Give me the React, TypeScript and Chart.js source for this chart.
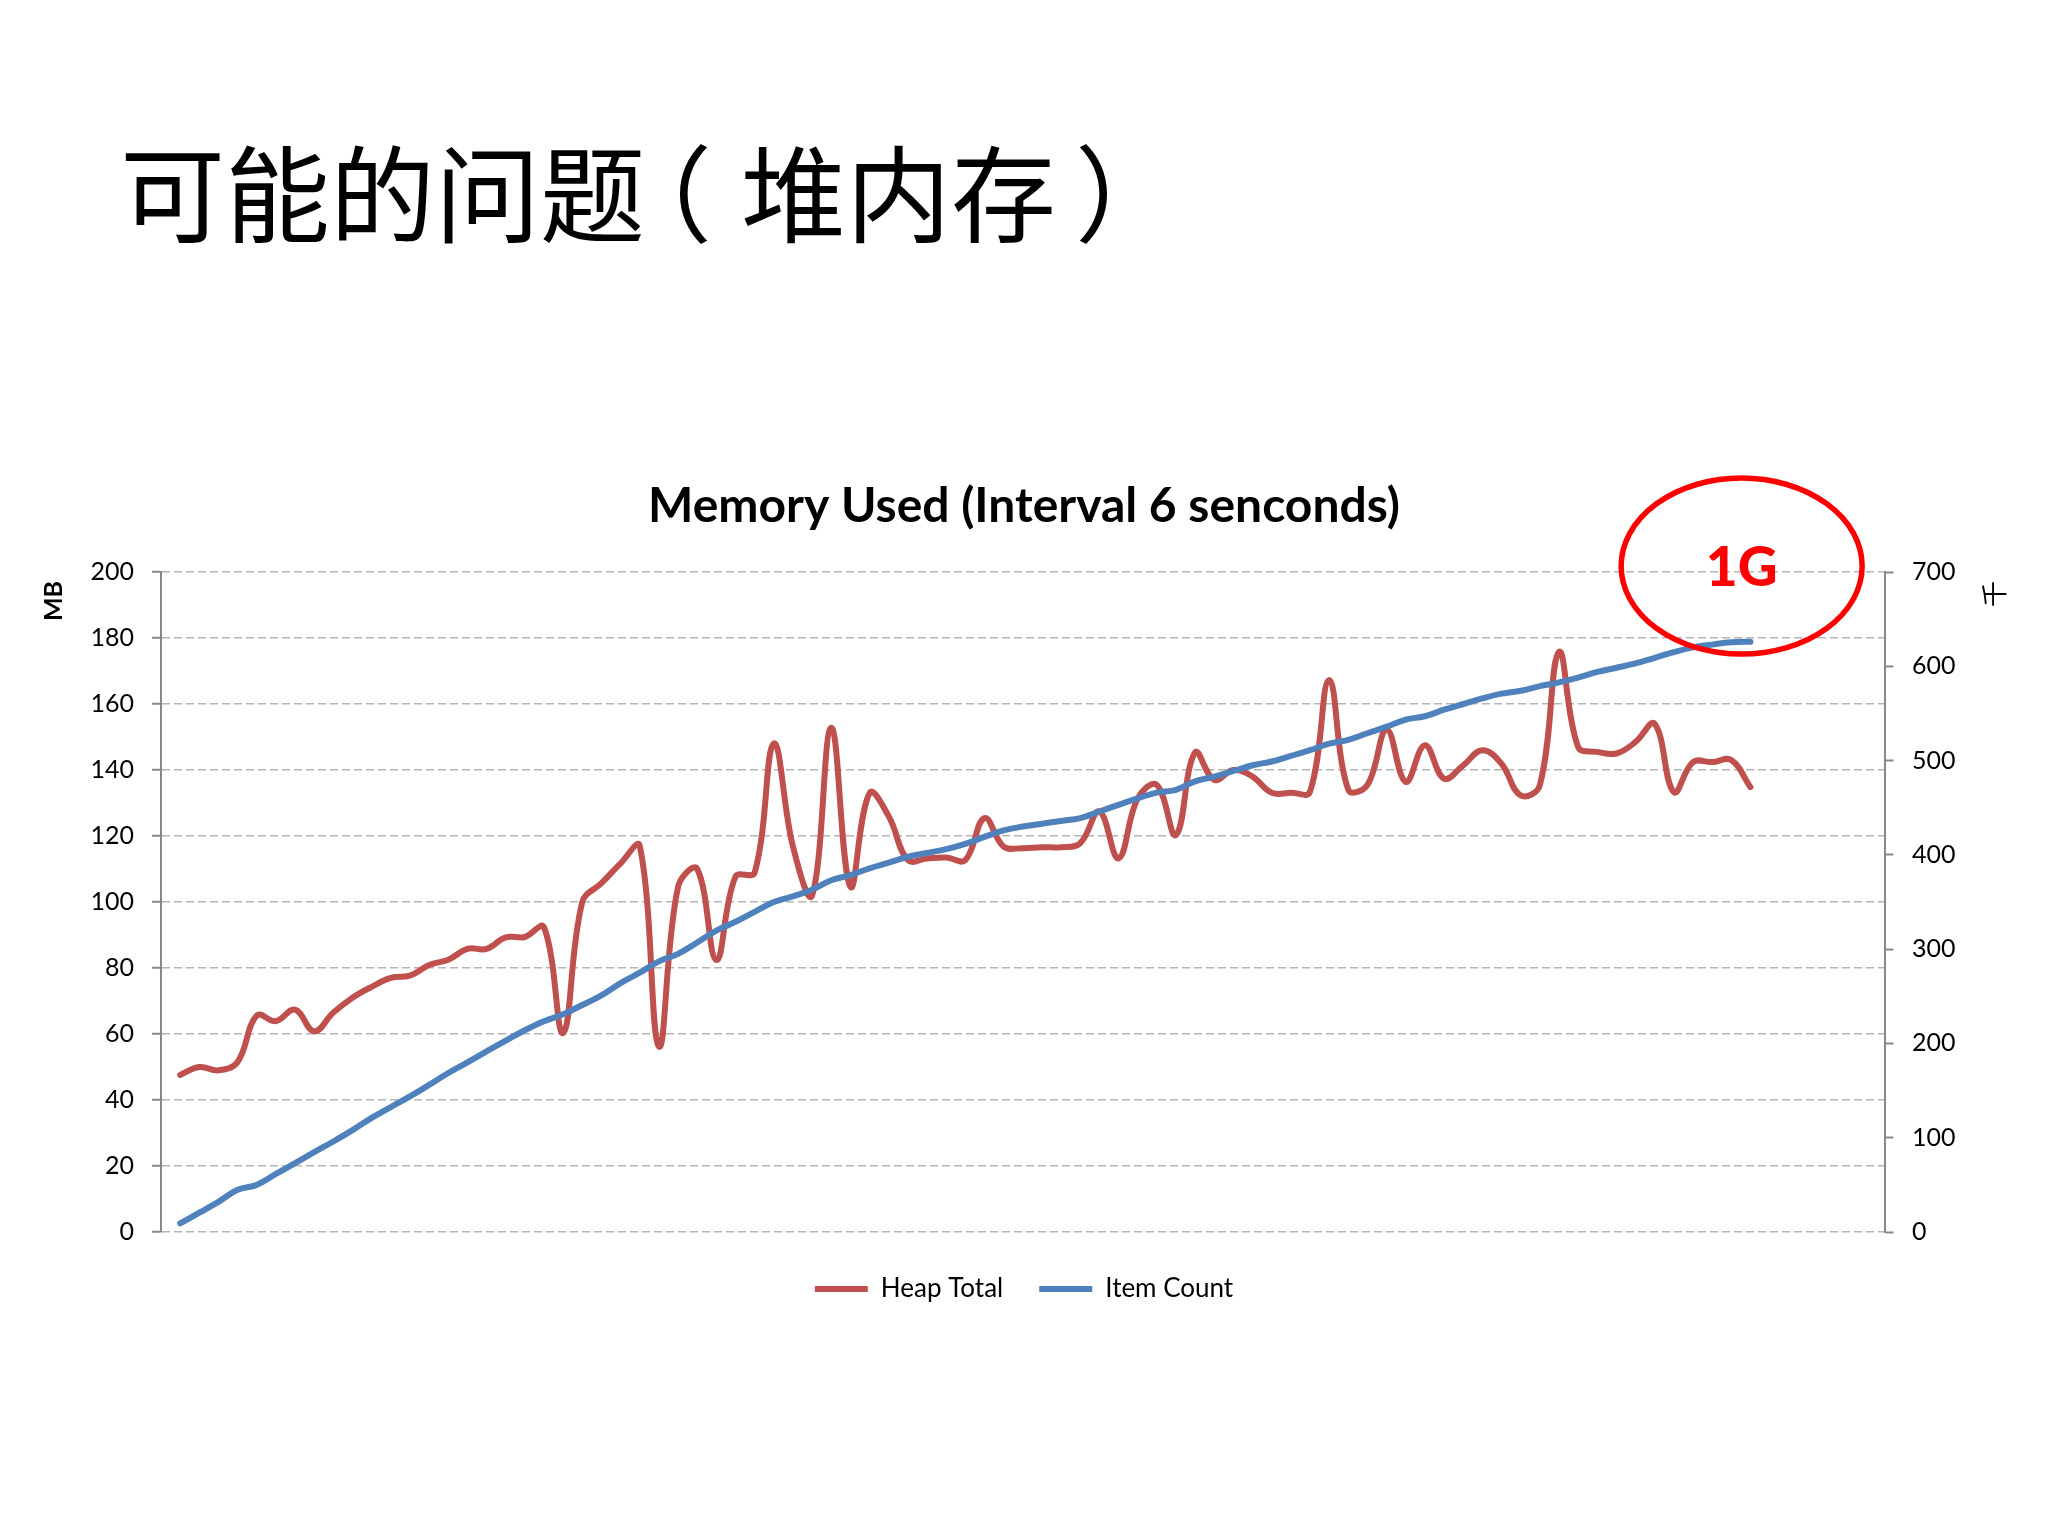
import React, { useEffect, useRef } from 'react';
import { Chart, registerables } from 'chart.js';

Chart.register(...registerables);

// ---- Data ----
const pageTitleParts = ['可能的问题', '（', '堆内存', '）'];
const chartTitle = 'Memory Used (Interval 6 senconds)';
const seriesNames = ['Heap Total', 'Item Count'];
const leftAxisTitle = 'MB';
const rightAxisTitle = '千';
const calloutText = '1G';

// Heap Total, MB (left axis)
const heapTotal = [
  47.6, 50, 49, 51.5, 65.6, 63.9, 67.4, 60.8, 66.5, 71,
  74.3, 77, 77.7, 80.9, 82.5, 85.8, 85.8, 89.3, 89.4, 92.4,
  60.3, 100, 105.7, 111.7, 117, 56.2, 104.6, 110, 82.4, 107.7,
  108.9, 148, 116.8, 102, 152.8, 104.6, 133, 126, 112.7, 113.2,
  113.5, 112.7, 125.4, 116.8, 116.3, 116.6, 116.6, 117.8, 127.4, 113.2,
  131.4, 135.5, 120.3, 145.3, 137, 140, 138, 133.1, 133.1, 133.4,
  167.3, 134, 135.5, 152.2, 136.4, 147.5, 137.4, 141.4, 146, 141.9,
  132.3, 135.4, 175.8, 147, 145.5, 145, 148.5, 154, 133.3, 142.4,
  142.4, 143, 134.8,
];

// Item Count, thousands (right axis)
const itemCount = [
  9.2, 20.5, 32, 44.7, 50, 61.6, 73, 84.7, 96, 108,
  121, 132.5, 143.8, 156, 168.6, 180, 191.6, 203, 214, 223.5,
  231, 240.8, 251, 264, 275, 287, 295, 307, 319.6, 329,
  339.6, 350, 356, 363, 373, 378.6, 385.7, 391.8, 398, 402,
  406, 411.6, 419, 426, 430, 433, 436, 439, 446, 453,
  460, 466, 469, 478, 483, 489, 495, 499, 505, 511,
  518, 522, 529, 536, 543.5, 547, 554, 560, 566, 571,
  574, 579, 583, 588, 594, 598.5, 603, 609, 615, 620,
  623, 625.5, 626,
];

// sample numbers (categories); the axis has room for 90 samples
const sampleAxisMax = 90;
const samples = heapTotal.map((_, i) => i + 1);

const leftAxis = { min: 0, max: 200, step: 20 };
const rightAxis = { min: 0, max: 700, step: 100 };

// callout position in data units (sample, MB)
const calloutAt = { sample: 82.54, mb: 201.8 };

const RED = '#C0504D';
const BLUE = '#4F81BD';
const GRID = '#b5b5b5';
const AXIS = '#888888';
const LATIN = 'Lato, "Noto Sans", sans-serif';
const CJK = '"Noto Sans CJK SC", "Noto Sans", sans-serif';

const slidePlugin = {
  id: 'slideAnnotations',
  afterDraw(chart: any) {
    const { ctx, scales } = chart;
    const area = chart.chartArea;
    ctx.save();
    ctx.fillStyle = '#000';
    ctx.textAlign = 'center';
    ctx.textBaseline = 'middle';

    // left axis title
    ctx.save();
    ctx.font = `bold 25px ${LATIN}`;
    ctx.translate(area.left - 107, area.top + 29);
    ctx.rotate(-Math.PI / 2);
    ctx.fillText(leftAxisTitle, 0, 0);
    ctx.restore();

    // right axis title
    ctx.save();
    ctx.font = `26px ${CJK}`;
    ctx.translate(area.right + 110, area.top + 22);
    ctx.rotate(-Math.PI / 2);
    ctx.fillText(rightAxisTitle, 0, 0);
    ctx.restore();

    // red callout ellipse with "1G"
    const cx = scales.x.getPixelForValue(calloutAt.sample);
    const cy = scales.y.getPixelForValue(calloutAt.mb);
    ctx.beginPath();
    ctx.ellipse(cx, cy, 120.5, 88, 0, 0, Math.PI * 2);
    ctx.lineWidth = 5.5;
    ctx.strokeStyle = '#FF0000';
    ctx.stroke();
    ctx.fillStyle = '#FF0000';
    ctx.font = `900 55px ${LATIN}`;
    ctx.fillText(calloutText, cx, cy + 2);

    ctx.restore();
  },
};

export default function App() {
  const canvasRef = useRef<HTMLCanvasElement | null>(null);

  useEffect(() => {
    if (!canvasRef.current) return;
    const chart = new Chart(canvasRef.current, {
      type: 'line',
      data: {
        datasets: [
          {
            label: seriesNames[0],
            data: samples.map((s, i) => ({ x: s, y: heapTotal[i] })),
            borderColor: RED,
            backgroundColor: RED,
            borderWidth: 6,
            borderCapStyle: 'round',
            borderJoinStyle: 'round',
            pointRadius: 0,
            tension: 0.4,
            fill: false,
            yAxisID: 'y',
            order: 1,
          },
          {
            label: seriesNames[1],
            data: samples.map((s, i) => ({ x: s, y: itemCount[i] })),
            borderColor: BLUE,
            backgroundColor: BLUE,
            borderWidth: 6,
            borderCapStyle: 'round',
            borderJoinStyle: 'round',
            pointRadius: 0,
            tension: 0.4,
            fill: false,
            yAxisID: 'y1',
            order: 0,
          },
        ],
      },
      options: {
        responsive: false,
        animation: false,
        devicePixelRatio: 1,
        layout: { padding: { top: 0, left: 0, right: 0, bottom: 224 } },
        font: { family: LATIN },
        color: '#000',
        plugins: {
          tooltip: { enabled: false },
          title: {
            display: true,
            text: chartTitle,
            color: '#000',
            font: { family: LATIN, size: 48, weight: 'bold', lineHeight: 1.2 },
            padding: { top: 478.2, bottom: 36.2 },
          },
          legend: {
            display: true,
            position: 'bottom',
            labels: {
              usePointStyle: true,
              pointStyle: 'line',
              pointStyleWidth: 53,
              padding: 36,
              color: '#000',
              font: { family: LATIN, size: 26 },
              sort: (a: any, b: any) => a.datasetIndex - b.datasetIndex,
            },
          },
        },
        scales: {
          x: {
            type: 'linear',
            min: 0,
            max: sampleAxisMax,
            display: true,
            ticks: { display: false },
            grid: { display: false },
            border: { display: false },
            afterFit: (scale: any) => {
              scale.height = 8;
            },
          },
          y: {
            type: 'linear',
            position: 'left',
            min: leftAxis.min,
            max: leftAxis.max,
            ticks: {
              stepSize: leftAxis.step,
              color: '#000',
              padding: 18,
              font: { family: LATIN, size: 25 },
            },
            grid: {
              color: GRID,
              lineWidth: 1.5,
              drawTicks: true,
              tickLength: 9,
              tickColor: AXIS,
              tickWidth: 2,
            },
            border: { display: true, color: AXIS, width: 2, dash: [8, 4] },
            afterFit: (scale: any) => {
              scale.width = 161;
            },
          },
          y1: {
            type: 'linear',
            position: 'right',
            min: rightAxis.min,
            max: rightAxis.max,
            ticks: {
              stepSize: rightAxis.step,
              color: '#000',
              padding: 18.5,
              font: { family: LATIN, size: 25 },
            },
            grid: {
              drawOnChartArea: false,
              drawTicks: true,
              tickLength: 9,
              color: AXIS,
              tickColor: AXIS,
              tickWidth: 2,
            },
            border: { display: true, color: AXIS, width: 2 },
            afterFit: (scale: any) => {
              scale.width = 163.5;
            },
          },
        },
      } as any,
      plugins: [slidePlugin],
    });
    return () => chart.destroy();
  }, []);

  return (
    <div style={{ position: 'absolute', left: 0, top: 0, width: 2048, height: 1536, background: '#fff' }}>
      <div
        style={{
          position: 'absolute',
          left: 120,
          top: 136,
          fontFamily: CJK,
          fontSize: 105,
          lineHeight: 1,
          color: '#000',
          whiteSpace: 'nowrap',
        }}
      >
        {pageTitleParts[0]}
        <span style={{ marginLeft: -38, marginRight: 29 }}>{pageTitleParts[1]}</span>
        {pageTitleParts[2]}
        <span style={{ marginLeft: 19 }}>{pageTitleParts[3]}</span>
      </div>
      <canvas
        ref={canvasRef}
        width={2048}
        height={1536}
        style={{ position: 'absolute', left: 0, top: 0, width: 2048, height: 1536 }}
      />
    </div>
  );
}
